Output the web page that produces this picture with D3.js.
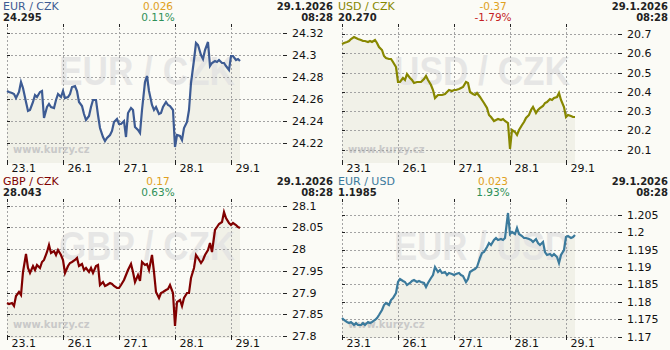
<!DOCTYPE html>
<html>
<head>
<meta charset="utf-8">
<title>kurzy</title>
<script src="https://d3js.org/d3.v7.min.js"></script>
<style>
  html, body { margin: 0; padding: 0; background: #fbfbf6; }
  svg { display: block; font-family: 'DejaVu Sans', Verdana, sans-serif; }
</style>
</head>
<body>
<div id="chart"></div>
<script>
// osa x: obchodni dny, body po hodinach od 23.1 00:00
const days = ['23.1', '26.1', '27.1', '28.1', '29.1']

const eurCzk = [24.268, 24.267, 24.266, 24.265, 24.261, 24.267, 24.276, 24.270, 24.258, 24.249,
  24.250, 24.258, 24.264, 24.262, 24.267, 24.268, 24.243, 24.253, 24.256, 24.253,
  24.252, 24.259, 24.265, 24.262, 24.268, 24.261, 24.262, 24.265, 24.271, 24.272,
  24.268, 24.258, 24.254, 24.247, 24.241, 24.245, 24.253, 24.259, 24.259, 24.246,
  24.234, 24.226, 24.222, 24.225, 24.228, 24.231, 24.239, 24.242, 24.238, 24.238,
  24.240, 24.226, 24.248, 24.252, 24.250, 24.235, 24.232, 24.229, 24.250, 24.276,
  24.281, 24.268, 24.255, 24.250, 24.253, 24.247, 24.248, 24.253, 24.258, 24.255,
  24.254, 24.250, 24.217, 24.228, 24.227, 24.223, 24.234, 24.239, 24.250, 24.275,
  24.296, 24.311, 24.309, 24.300, 24.297, 24.305, 24.312, 24.290, 24.293, 24.295,
  24.294, 24.296, 24.293, 24.293, 24.290, 24.287, 24.299, 24.299, 24.296, 24.297,
  24.295]

const usdCzk = [20.650, 20.653, 20.662, 20.667, 20.674, 20.684, 20.679, 20.674, 20.670, 20.663,
  20.667, 20.662, 20.667, 20.662, 20.670, 20.653, 20.636, 20.618, 20.587, 20.575,
  20.570, 20.570, 20.557, 20.531, 20.453, 20.453, 20.470, 20.462, 20.493, 20.470,
  20.462, 20.448, 20.453, 20.453, 20.453, 20.465, 20.483, 20.462, 20.436, 20.410,
  20.366, 20.384, 20.384, 20.384, 20.389, 20.401, 20.410, 20.406, 20.410, 20.410,
  20.413, 20.418, 20.424, 20.453, 20.444, 20.401, 20.389, 20.384, 20.392, 20.375,
  20.357, 20.340, 20.314, 20.279, 20.270, 20.250, 20.253, 20.257, 20.253, 20.257,
  20.250, 20.236, 20.105, 20.204, 20.192, 20.175, 20.201, 20.227, 20.244, 20.262,
  20.279, 20.305, 20.319, 20.288, 20.305, 20.314, 20.326, 20.340, 20.349, 20.361,
  20.357, 20.366, 20.371, 20.392, 20.357, 20.323, 20.270, 20.279, 20.274, 20.270,
  20.270]

const gbpCzk = [27.875, 27.873, 27.875, 27.868, 27.891, 27.902, 27.894, 27.948, 27.988, 27.956,
  27.944, 27.960, 27.952, 27.963, 27.956, 27.970, 27.975, 27.994, 28.009, 27.990,
  27.996, 27.986, 27.998, 27.986, 27.975, 27.944, 27.960, 27.967, 27.971, 27.975,
  27.980, 27.960, 27.965, 27.952, 27.956, 27.948, 27.956, 27.944, 27.960, 27.963,
  27.917, 27.925, 27.914, 27.917, 27.921, 27.919, 27.914, 27.911, 27.910, 27.917,
  27.929, 27.940, 27.952, 27.965, 27.948, 27.925, 27.940, 27.927, 27.971, 27.963,
  27.965, 27.952, 27.986, 27.948, 27.902, 27.887, 27.898, 27.902, 27.906, 27.908,
  27.917, 27.898, 27.822, 27.879, 27.883, 27.868, 27.887, 27.898, 27.898, 27.933,
  27.956, 27.986, 27.979, 27.967, 27.975, 27.986, 27.998, 28.013, 27.994, 28.044,
  28.052, 28.057, 28.063, 28.086, 28.071, 28.059, 28.056, 28.059, 28.056, 28.052,
  28.049]

const eurUsd = [1.1753, 1.1748, 1.1743, 1.1738, 1.1741, 1.1735, 1.1738, 1.1735, 1.1734, 1.1738,
  1.1735, 1.1741, 1.1738, 1.1743, 1.1748, 1.1753, 1.1762, 1.1777, 1.1791, 1.1796,
  1.1791, 1.1805, 1.1810, 1.1824, 1.1858, 1.1865, 1.1860, 1.1856, 1.1848, 1.1853,
  1.1860, 1.1863, 1.1858, 1.1860, 1.1856, 1.1853, 1.1844, 1.1853, 1.1867, 1.1877,
  1.1901, 1.1887, 1.1891, 1.1882, 1.1885, 1.1877, 1.1882, 1.1879, 1.1877, 1.1879,
  1.1882, 1.1877, 1.1875, 1.1858, 1.1865, 1.1887, 1.1891, 1.1894, 1.1901, 1.1925,
  1.1939, 1.1944, 1.1958, 1.1968, 1.1963, 1.1977, 1.1982, 1.1977, 1.1980, 1.1977,
  1.1982, 1.2054, 1.1994, 1.1999, 1.1994, 1.2011, 1.1996, 1.1990, 1.1982, 1.1984,
  1.1980, 1.1977, 1.1973, 1.1980, 1.1968, 1.1963, 1.1973, 1.1944, 1.1934, 1.1936,
  1.1932, 1.1936, 1.1930, 1.1910, 1.1934, 1.1949, 1.1987, 1.1990, 1.1984, 1.1987,
  1.1992]

const eurCzkTicks = [24.22, 24.24, 24.26, 24.28, 24.30, 24.32]
const usdCzkTicks = [20.1, 20.2, 20.3, 20.4, 20.5, 20.6, 20.7]
const gbpCzkTicks = [27.8, 27.85, 27.9, 27.95, 28.0, 28.05, 28.1]
const eurUsdTicks = [1.17, 1.175, 1.18, 1.185, 1.19, 1.195, 1.2, 1.205]

const eurCzkDomain = [24.2021, 24.3285]
const usdCzkDomain = [20.0297, 20.7536]
const gbpCzkDomain = [27.7952, 28.1154]
const eurUsdDomain = [1.16963, 1.2095]

const pairs = ['EUR / CZK', 'USD / CZK', 'GBP / CZK', 'EUR / USD']
const lastRates = ['24.295', '20.270', '28.043', '1.1985']
const changes = ['0.026', '-0.37', '0.17', '0.023']
const changePct = ['0.11%', '-1.79%', '0.63%', '1.93%']
const stamp = ['29.1.2026', '08:28']

const panels = [
  { values: eurCzk, ticks: eurCzkTicks, domain: eurCzkDomain, color: '#3d5b93' },
  { values: usdCzk, ticks: usdCzkTicks, domain: usdCzkDomain, color: '#878700' },
  { values: gbpCzk, ticks: gbpCzkTicks, domain: gbpCzkDomain, color: '#800000' },
  { values: eurUsd, ticks: eurUsdTicks, domain: eurUsdDomain, color: '#3b7a9c' }
].map((p, i) => ({ ...p, pair: pairs[i], last: lastRates[i], change: changes[i], pct: changePct[i] }))

const W = 335, H = 175
const plotLeft = 7, plotRight = 287, plotTop = 24, plotBottom = 163

const svg = d3.select('#chart').append('svg')
  .attr('width', 670).attr('height', 350)

svg.append('rect').attr('width', 670).attr('height', 350).attr('fill', '#fbfbf6')

const x = d3.scaleLinear().domain([0, 120]).rangeRound([plotLeft, plotRight])
const hours = days.map((d, i) => i * 24)
const fmt = d3.format('~g')

panels.forEach((p, i) => {
  const g = svg.append('g')
    .attr('transform', `translate(${(i % 2) * W},${Math.floor(i / 2) * H})`)

  const y = d3.scaleLinear().domain(p.domain).rangeRound([plotBottom, plotTop])

  // plocha pod krivkou
  g.append('path')
    .datum(p.values)
    .attr('fill', '#f1f1e8')
    .attr('d', d3.area().x((d, k) => x(k)).y0(plotBottom).y1(d => y(d)))

  // vodoznaky
  g.append('text')
    .attr('x', 147).attr('y', 85)
    .attr('text-anchor', 'middle')
    .attr('font-family', "'Liberation Sans', Arial, sans-serif")
    .attr('font-weight', 'bold')
    .attr('font-size', 41)
    .attr('textLength', 176)
    .attr('lengthAdjust', 'spacingAndGlyphs')
    .attr('fill', '#e3e3e3')
    .attr('fill-opacity', 0.85)
    .text(p.pair)

  g.append('text')
    .attr('x', 13).attr('y', 153)
    .attr('font-size', 10)
    .attr('font-weight', 'bold')
    .attr('fill', '#c9c9c9')
    .text('www.kurzy.cz')

  // mrizka
  g.append('g').selectAll('line')
    .data(p.ticks).join('line')
    .attr('x1', plotLeft).attr('x2', 283)
    .attr('y1', d => y(d) + 0.5).attr('y2', d => y(d) + 0.5)
    .attr('stroke', '#a3a3a3')
    .attr('stroke-dasharray', '2,2')

  g.append('g').selectAll('line')
    .data(hours).join('line')
    .attr('x1', d => x(d) + 0.5).attr('x2', d => x(d) + 0.5)
    .attr('y1', plotTop).attr('y2', plotBottom)
    .attr('stroke', '#a3a3a3')
    .attr('stroke-dasharray', '2,2')

  // osy
  const yAxis = g.append('g')
    .attr('transform', 'translate(283,0)')
    .call(d3.axisRight(y).tickValues(p.ticks).tickSize(4).tickPadding(5).tickFormat(fmt))
  yAxis.select('.domain').remove()

  const yLeft = g.append('g')
    .attr('transform', `translate(${plotLeft + 3},0)`)
    .call(d3.axisLeft(y).tickValues(p.ticks).tickSize(3).tickFormat(''))
  yLeft.select('.domain').remove()

  const xAxis = g.append('g')
    .attr('transform', `translate(0,${plotBottom - 3})`)
    .call(d3.axisBottom(x).tickValues(hours).tickSize(5).tickPadding(-1).tickFormat((d, k) => days[k]))
  xAxis.select('.domain').remove()
  xAxis.selectAll('text').attr('text-anchor', 'start').attr('x', 4)

  const xTop = g.append('g')
    .attr('transform', `translate(0,${plotTop + 3})`)
    .call(d3.axisTop(x).tickValues(hours).tickSize(3).tickFormat(''))
  xTop.select('.domain').remove()

  g.selectAll('.tick line').attr('stroke', '#222')
  g.selectAll('.tick text').attr('fill', '#111')
  ;[yAxis, yLeft, xAxis, xTop].forEach(a => a.attr('font-family', null).attr('font-size', 11))

  // krivka kurzu
  g.append('path')
    .datum(p.values)
    .attr('fill', 'none')
    .attr('stroke', p.color)
    .attr('stroke-width', 2.2)
    .attr('stroke-linejoin', 'miter')
    .attr('d', d3.line().x((d, k) => x(k)).y(d => y(d)))

  // hlavicka
  g.append('text').attr('x', 3).attr('y', 10)
    .attr('font-size', 11).attr('fill', p.color).text(p.pair)
  g.append('text').attr('x', 3).attr('y', 21)
    .attr('font-size', 10).attr('font-weight', 'bold').attr('fill', '#222').text(p.last)

  const up = !p.change.startsWith('-')
  g.append('text').attr('x', 158).attr('y', 10).attr('text-anchor', 'middle')
    .attr('font-size', 10.5).attr('fill', '#e0a020').text(p.change)
  g.append('text').attr('x', 158).attr('y', 21).attr('text-anchor', 'middle')
    .attr('font-size', 10.5).attr('fill', up ? '#2e9058' : '#c41e24').text(p.pct)

  g.append('text').attr('x', 333).attr('y', 10).attr('text-anchor', 'end')
    .attr('font-size', 10).attr('font-weight', 'bold').attr('fill', '#222').text(stamp[0])
  g.append('text').attr('x', 333).attr('y', 21).attr('text-anchor', 'end')
    .attr('font-size', 10).attr('font-weight', 'bold').attr('fill', '#222').text(stamp[1])
})
</script>
</body>
</html>
